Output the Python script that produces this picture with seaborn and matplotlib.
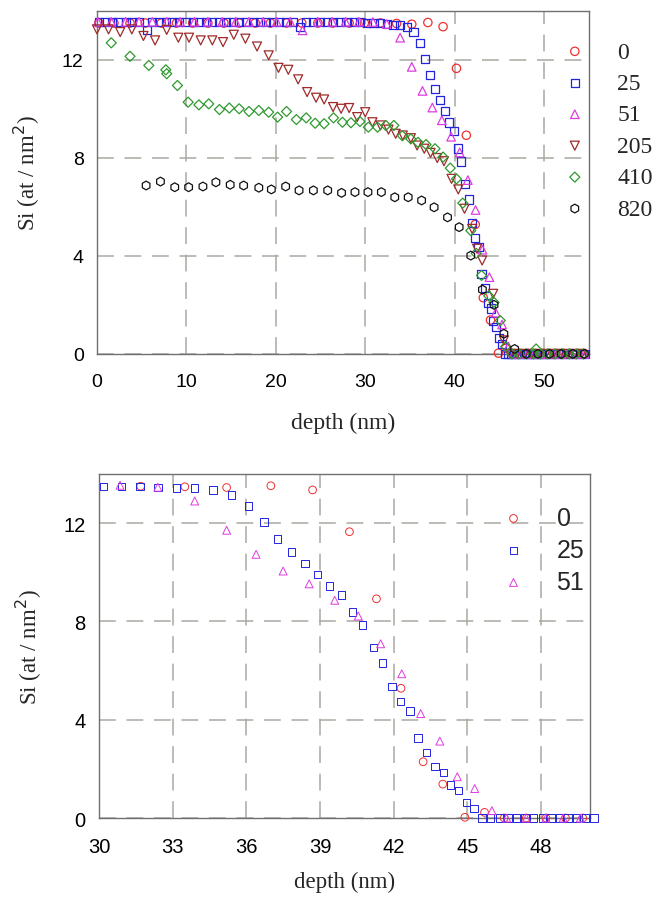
import numpy as np
import matplotlib
matplotlib.use("Agg")
import matplotlib.pyplot as plt
import seaborn as sns

# Si areal density vs depth

depth_0 = [0.2, 1.9, 3.7, 5.4, 7.2, 8.9, 10.7, 12.4, 14.2, 15.9, 17.7, 19.4, 21.2, 22.9, 24.7, 26.4,
           28.2, 29.9, 31.7, 33.5, 35.2, 37.0, 38.7, 40.2, 41.3, 42.3, 43.2, 44.0, 44.9, 45.7,
           46.5, 47.4, 48.2, 49.0, 49.7, 50.5, 51.3, 52.0, 52.8, 53.5, 54.3]
si_0 = [13.5, 13.5, 13.5, 13.5, 13.5, 13.5, 13.5, 13.5, 13.5, 13.5, 13.5, 13.5, 13.5, 13.5, 13.5, 13.5,
        13.5, 13.5, 13.5, 13.48, 13.45, 13.52, 13.35, 11.65, 8.92, 5.28, 2.29, 1.38, 0.03, 0.23,
        0.0, 0.0, 0.0, 0.0, 0.0, 0.0, 0.0, 0.0, 0.0, 0.0, 0.0]

depth_25 = [0.2, 0.9, 1.7, 2.4, 3.2, 3.9, 4.7, 5.6, 6.2, 6.9, 7.7, 8.4, 9.2, 9.9, 10.7, 11.4,
            12.2, 12.9, 13.7, 14.4, 15.2, 15.9, 16.7, 17.4, 18.2, 18.9, 19.7, 20.4, 21.2, 21.9,
            22.7, 23.4, 24.2, 24.9, 25.7, 26.4, 27.2, 27.9, 28.7, 29.4, 30.18, 30.92, 31.67, 32.4,
            33.16, 33.9, 34.65, 35.4, 36.08, 36.72, 37.27, 37.84, 38.39, 38.9, 39.38, 39.88, 40.33,
            40.74, 41.17, 41.55, 41.93, 42.28, 42.66, 43.0, 43.34, 43.68, 44.02, 44.32, 44.65, 44.97,
            45.27, 45.6, 45.95, 46.3, 46.65, 47.0, 47.35, 47.7, 48.05, 48.4, 48.75, 49.1, 49.45,
            49.8, 50.15, 50.6, 51.1, 51.6, 52.1, 52.6, 53.1, 53.6, 54.1, 54.6]
si_25 = [13.54, 13.54, 13.54, 13.54, 13.54, 13.54, 13.54, 13.2, 13.54, 13.54, 13.54, 13.54, 13.54,
         13.54, 13.54, 13.54, 13.54, 13.54, 13.54, 13.54, 13.54, 13.54, 13.54, 13.54, 13.54, 13.54,
         13.54, 13.54, 13.54, 13.54, 13.33, 13.54, 13.54, 13.54, 13.54, 13.54, 13.54, 13.54, 13.54,
         13.54, 13.5, 13.5, 13.5, 13.46, 13.43, 13.43, 13.34, 13.14, 12.69, 12.04, 11.36, 10.82,
         10.35, 9.9, 9.44, 9.08, 8.38, 7.85, 6.93, 6.3, 5.35, 4.74, 4.35, 3.25, 2.67, 2.09, 1.85,
         1.34, 1.11, 0.63, 0.39, 0.0, 0.0, 0.0, 0.0, 0.0, 0.0, 0.0, 0.0, 0.0, 0.0, 0.0, 0.0,
         0.0, 0.0, 0.0, 0.0, 0.0, 0.0, 0.0, 0.0, 0.0, 0.0, 0.0]

depth_51 = [0.1, 1.6, 3.2, 4.7, 6.2, 7.8, 9.3, 10.9, 12.4, 14.0, 15.5, 17.0, 18.6, 20.1, 21.6, 23.0,
            24.7, 26.3, 27.8, 29.3, 30.86, 32.4, 33.9, 35.2, 36.4, 37.5, 38.56, 39.6, 40.56, 41.47,
            42.33, 43.1, 43.88, 44.59, 45.3, 46.0, 46.6, 47.4, 48.2, 48.9, 49.6, 50.3, 51.0, 51.7,
            52.4, 53.1, 53.8, 54.5]
si_51 = [13.55, 13.55, 13.55, 13.55, 13.55, 13.55, 13.55, 13.55, 13.55, 13.55, 13.55, 13.55, 13.55,
         13.55, 13.55, 13.2, 13.55, 13.55, 13.55, 13.55, 13.54, 13.46, 12.9, 11.71, 10.73, 10.05,
         9.53, 8.86, 8.22, 7.09, 5.87, 4.25, 3.13, 1.68, 1.2, 0.3, 0.0, 0.0, 0.0, 0.0, 0.0, 0.0,
         0.0, 0.0, 0.0, 0.0, 0.0, 0.0]

depth_205 = [0.0, 1.3, 2.6, 3.9, 5.2, 6.5, 7.8, 9.1, 10.3, 11.6, 12.9, 14.1, 15.3, 16.6, 17.9, 19.2,
             20.3, 21.4, 22.5, 23.5, 24.5, 25.4, 26.4, 27.3, 28.2, 29.1, 30.0, 30.8, 31.7, 32.6,
             33.4, 34.2, 35.1, 35.8, 36.6, 37.3, 38.05, 38.8, 39.65, 40.4, 41.1, 41.95, 42.5,
             43.07, 44.3, 45.5, 46.2, 47.0, 47.8, 48.6, 49.4, 50.2, 51.0, 51.8, 52.6, 53.4, 54.2]
si_205 = [13.24, 13.24, 13.13, 13.24, 12.97, 12.79, 13.22, 12.9, 12.9, 12.79, 12.79, 12.72, 13.02,
          12.86, 12.54, 12.18, 11.67, 11.59, 11.2, 10.68, 10.45, 10.38, 10.07, 10.0, 10.03, 9.66,
          9.86, 9.45, 9.32, 9.15, 8.98, 8.91, 8.8, 8.5, 8.37, 8.2, 7.99, 7.86, 7.14, 6.71, 5.92,
          5.1, 4.29, 3.81, 2.45, 0.55, 0.0, 0.0, 0.0, 0.0, 0.0, 0.0, 0.0, 0.0, 0.0, 0.0, 0.0]

depth_410 = [1.6, 3.7, 5.8, 7.7, 7.8, 9.0, 10.2, 11.4, 12.5, 13.7, 14.8, 15.9, 17.0, 18.1, 19.2,
             20.2, 21.2, 22.3, 23.4, 24.4, 25.4, 26.45, 27.45, 28.4, 29.4, 30.35, 31.37, 32.3,
             33.2, 34.15, 35.1, 35.9, 36.8, 37.8, 38.7, 39.5, 40.2, 40.9, 41.8, 42.4, 43.0, 43.8,
             44.4, 45.1, 45.7, 46.4, 47.2, 48.0, 48.8, 49.1, 49.6, 50.4, 51.2, 52.0, 52.8, 53.6, 54.4]
si_410 = [12.69, 12.14, 11.77, 11.59, 11.43, 10.95, 10.27, 10.16, 10.2, 9.97, 10.03, 10.0, 9.89,
          9.93, 9.86, 9.66, 9.89, 9.56, 9.63, 9.41, 9.39, 9.63, 9.45, 9.43, 9.48, 9.25, 9.25,
          9.32, 9.32, 8.9, 8.77, 8.63, 8.54, 8.37, 8.03, 7.58, 7.14, 6.15, 5.03, 4.1, 3.2, 2.37,
          2.1, 1.36, 0.3, 0.0, 0.0, 0.0, 0.0, 0.2, 0.0, 0.0, 0.0, 0.0, 0.0, 0.0, 0.0]

depth_820 = [5.5, 7.1, 8.7, 10.25, 11.85, 13.3, 14.9, 16.4, 18.1, 19.5, 21.1, 22.6, 24.2, 25.8,
             27.35, 28.85, 30.3, 31.8, 33.3, 34.8, 36.3, 37.7, 39.2, 40.5, 41.8, 43.1, 44.4, 45.5,
             46.7, 48.0, 49.3, 50.6, 51.9, 53.2, 54.5]
si_820 = [6.87, 7.03, 6.8, 6.8, 6.83, 7.0, 6.9, 6.87, 6.78, 6.71, 6.83, 6.67, 6.67, 6.67, 6.57,
          6.6, 6.6, 6.6, 6.39, 6.39, 6.26, 5.98, 5.57, 5.17, 4.01, 2.62, 2.0, 0.82, 0.2, 0.0,
          0.0, 0.0, 0.0, 0.0, 0.0]

labels = ["0", "25", "51", "205", "410", "820"]
colors = ["#ee3030", "#2424dd", "#e03ce0", "#a02a2a", "#2f9a2f", "#111111"]
markers = ["o", "s", "^", "v", "D", "h"]
sizes = [36, 34, 38, 42, 26, 40]

series = [(depth_0, si_0), (depth_25, si_25), (depth_51, si_51),
          (depth_205, si_205), (depth_410, si_410), (depth_820, si_820)]

sns.set_style("white")
plt.rcParams["font.family"] = ["Liberation Sans", "DejaVu Sans"]

SERIF = ["Liberation Serif", "DejaVu Serif"]
GRID_COL = "#a9a9a2"
FRAME_COL = "#707070"


def style_axes(ax, xticks, tick_fs):
    ax.set_yticks([0, 4, 8, 12])
    ax.set_xticks(xticks)
    ax.grid(True, color=GRID_COL, linestyle=(0, (11, 7)), linewidth=1.1)
    ax.set_axisbelow(True)
    for sp in ax.spines.values():
        sp.set_color(FRAME_COL)
        sp.set_linewidth(1.0)
    ax.tick_params(axis="both", direction="out", length=3.5, width=1, color=FRAME_COL,
                   labelsize=tick_fs, labelcolor="black")
    ax.tick_params(axis="x", pad=10)
    ax.tick_params(axis="y", pad=6)


def fix_legend(leg, cols):
    for h, c in zip(leg.legend_handles, cols):
        h.set_edgecolor(c)
        h.set_facecolor("none")


fig = plt.figure(figsize=(6.55, 9.03), dpi=100)

# top panel: all fluences
ax1 = fig.add_axes([0.148, 0.607, 0.751, 0.380])
for (d, s), lab, c, m, sz in zip(series, labels, colors, markers, sizes):
    sns.scatterplot(x=d, y=s, ax=ax1, marker=m, s=sz, facecolor="none", edgecolor=c,
                    linewidth=0.9, label=lab, clip_on=False, zorder=3)
ax1.set_xlim(0, 55)
ax1.set_ylim(0, 14)
style_axes(ax1, [0, 10, 20, 30, 40, 50], 14)
ax1.set_xlabel("depth (nm)", fontsize=17, family=SERIF)
ax1.set_ylabel("Si (at / nm$^2$)", fontsize=16.5, family=SERIF)
ax1.xaxis.set_label_coords(0.5, -0.168)
ax1.yaxis.set_label_coords(-0.112, 0.53)
leg1 = ax1.legend(loc="upper left", bbox_to_anchor=(563 / 655, 1 - 42 / 903),
                  bbox_transform=fig.transFigure, frameon=False, borderpad=0,
                  borderaxespad=0, handlelength=1.0, handletextpad=1.29,
                  labelspacing=0.42, prop={"family": SERIF, "size": 17})
fix_legend(leg1, colors)

# bottom panel: zoom on the interface, lowest three fluences
ax2 = fig.add_axes([0.151, 0.093, 0.750, 0.381])
for (d, s), lab, c, m, sz in list(zip(series, labels, colors, markers, sizes))[:3]:
    d = np.array(d)
    s = np.array(s)
    keep = (d >= 30.0) & (d <= 50.2)
    sns.scatterplot(x=d[keep], y=s[keep], ax=ax2, marker=m, s=sz * 0.85, facecolor="none",
                    edgecolor=c, linewidth=0.7, label=lab, clip_on=False, zorder=3)
ax2.set_xlim(30, 50)
ax2.set_ylim(0, 14)
style_axes(ax2, [30, 33, 36, 39, 42, 45, 48], 14.5)
ax2.set_xlabel("depth (nm)", fontsize=16.5, family=SERIF)
ax2.set_ylabel("Si (at / nm$^2$)", fontsize=16.5, family=SERIF)
ax2.xaxis.set_label_coords(0.5, -0.152)
ax2.yaxis.set_label_coords(-0.112, 0.5)
leg2 = ax2.legend(loc="upper left", bbox_to_anchor=(501 / 655, 1 - 507 / 903),
                  bbox_transform=fig.transFigure, frameon=False, borderpad=0,
                  borderaxespad=0, handlelength=1.0, handletextpad=1.22,
                  labelspacing=0.32, prop={"size": 18})
fix_legend(leg2, colors[:3])

fig.savefig("out.png", dpi=100)
